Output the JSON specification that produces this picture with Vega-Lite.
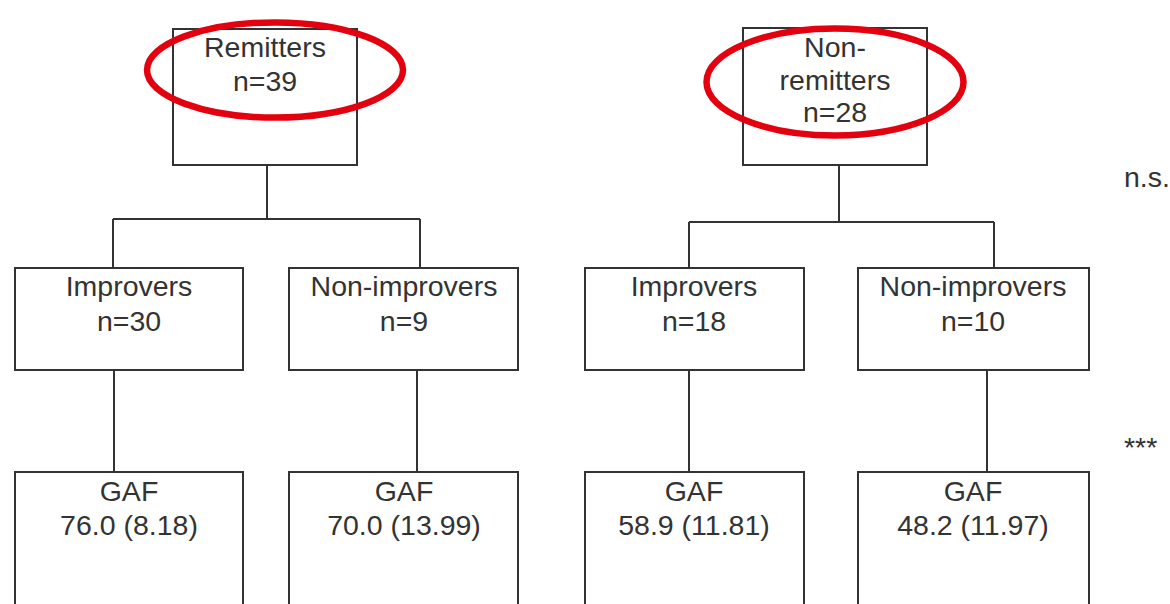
{
  "$schema": "https://vega.github.io/schema/vega-lite/v6.json",
  "width": 1170,
  "height": 604,
  "padding": 0,
  "autosize": {"type": "none"},
  "background": "white",
  "config": {"view": {"stroke": null}},
  "datasets": {
    "boxes": [
      {"id": "Remitters", "x1": 173, "x2": 357, "y1": 29, "y2": 165},
      {"id": "Non-remitters", "x1": 743, "x2": 927, "y1": 28, "y2": 165},
      {"id": "R Improvers", "x1": 15, "x2": 243, "y1": 268, "y2": 370},
      {"id": "R Non-improvers", "x1": 289, "x2": 518, "y1": 268, "y2": 370},
      {"id": "NR Improvers", "x1": 585, "x2": 804, "y1": 268, "y2": 370},
      {"id": "NR Non-improvers", "x1": 858, "x2": 1089, "y1": 268, "y2": 370},
      {"id": "R Improvers GAF", "x1": 15, "x2": 243, "y1": 472, "y2": 640},
      {"id": "R Non-improvers GAF", "x1": 289, "x2": 518, "y1": 472, "y2": 640},
      {"id": "NR Improvers GAF", "x1": 585, "x2": 804, "y1": 472, "y2": 640},
      {"id": "NR Non-improvers GAF", "x1": 858, "x2": 1089, "y1": 472, "y2": 640}
    ],
    "links": [
      {"x": 267, "x2": 267, "y": 165, "y2": 219},
      {"x": 113, "x2": 420, "y": 219, "y2": 219},
      {"x": 113, "x2": 113, "y": 219, "y2": 268},
      {"x": 420, "x2": 420, "y": 219, "y2": 268},
      {"x": 839, "x2": 839, "y": 165, "y2": 222},
      {"x": 689, "x2": 994, "y": 222, "y2": 222},
      {"x": 689, "x2": 689, "y": 222, "y2": 268},
      {"x": 994, "x2": 994, "y": 222, "y2": 268},
      {"x": 114, "x2": 114, "y": 370, "y2": 472},
      {"x": 417, "x2": 417, "y": 370, "y2": 472},
      {"x": 689, "x2": 689, "y": 370, "y2": 472},
      {"x": 987, "x2": 987, "y": 370, "y2": 472}
    ],
    "labels": [
      {"x": 265, "y": 57, "text": "Remitters"},
      {"x": 265, "y": 91, "text": "n=39"},
      {"x": 835, "y": 57, "text": "Non-"},
      {"x": 835, "y": 90, "text": "remitters"},
      {"x": 835, "y": 122, "text": "n=28"},
      {"x": 129, "y": 296, "text": "Improvers"},
      {"x": 129, "y": 331, "text": "n=30"},
      {"x": 404, "y": 296, "text": "Non-improvers"},
      {"x": 404, "y": 331, "text": "n=9"},
      {"x": 694, "y": 296, "text": "Improvers"},
      {"x": 694, "y": 331, "text": "n=18"},
      {"x": 973, "y": 296, "text": "Non-improvers"},
      {"x": 973, "y": 331, "text": "n=10"},
      {"x": 129, "y": 501, "text": "GAF"},
      {"x": 129, "y": 535, "text": "76.0 (8.18)"},
      {"x": 404, "y": 501, "text": "GAF"},
      {"x": 404, "y": 535, "text": "70.0 (13.99)"},
      {"x": 694, "y": 501, "text": "GAF"},
      {"x": 694, "y": 535, "text": "58.9 (11.81)"},
      {"x": 973, "y": 501, "text": "GAF"},
      {"x": 973, "y": 535, "text": "48.2 (11.97)"}
    ],
    "sig": [
      {"x": 1124, "y": 187, "text": "n.s."},
      {"x": 1124, "y": 457, "text": "***"}
    ],
    "circled": [
      {"group": "Remitters", "x": 275, "y": 70},
      {"group": "Non-remitters", "x": 835, "y": 82}
    ]
  },
  "layer": [
    {
      "data": {"name": "boxes"},
      "mark": {"type": "rect", "fill": "white", "stroke": "#333333", "strokeWidth": 2},
      "encoding": {
        "x": {"field": "x1", "type": "quantitative", "scale": {"domain": [0, 1170], "nice": false, "zero": false}, "axis": null},
        "x2": {"field": "x2"},
        "y": {"field": "y1", "type": "quantitative", "scale": {"domain": [604, 0], "nice": false, "zero": false}, "axis": null},
        "y2": {"field": "y2"}
      }
    },
    {
      "data": {"name": "links"},
      "mark": {"type": "rule", "stroke": "#333333", "strokeWidth": 2},
      "encoding": {
        "x": {"field": "x", "type": "quantitative", "scale": {"domain": [0, 1170], "nice": false, "zero": false}, "axis": null},
        "x2": {"field": "x2"},
        "y": {"field": "y", "type": "quantitative", "scale": {"domain": [604, 0], "nice": false, "zero": false}, "axis": null},
        "y2": {"field": "y2"}
      }
    },
    {
      "data": {"name": "labels"},
      "mark": {"type": "text", "font": "Liberation Sans", "fontSize": 28.5, "color": "#333333", "align": "center", "baseline": "alphabetic"},
      "encoding": {
        "x": {"field": "x", "type": "quantitative", "scale": {"domain": [0, 1170], "nice": false, "zero": false}, "axis": null},
        "y": {"field": "y", "type": "quantitative", "scale": {"domain": [604, 0], "nice": false, "zero": false}, "axis": null},
        "text": {"field": "text"}
      }
    },
    {
      "data": {"name": "sig"},
      "mark": {"type": "text", "font": "Liberation Sans", "fontSize": 28.5, "color": "#333333", "align": "left", "baseline": "alphabetic"},
      "encoding": {
        "x": {"field": "x", "type": "quantitative", "scale": {"domain": [0, 1170], "nice": false, "zero": false}, "axis": null},
        "y": {"field": "y", "type": "quantitative", "scale": {"domain": [604, 0], "nice": false, "zero": false}, "axis": null},
        "text": {"field": "text"}
      }
    },
    {
      "data": {"name": "circled"},
      "transform": [{"filter": "datum.group === 'Remitters'"}],
      "mark": {"type": "point", "filled": false, "stroke": "#e3000f", "strokeWidth": 6.5, "opacity": 1, "size": 65536, "shape": "M -1 0 A 1 0.372 0 1 1 1 0 A 1 0.372 0 1 1 -1 0 Z"},
      "encoding": {
        "x": {"field": "x", "type": "quantitative", "scale": {"domain": [0, 1170], "nice": false, "zero": false}, "axis": null},
        "y": {"field": "y", "type": "quantitative", "scale": {"domain": [604, 0], "nice": false, "zero": false}, "axis": null}
      }
    },
    {
      "data": {"name": "circled"},
      "transform": [{"filter": "datum.group === 'Non-remitters'"}],
      "mark": {"type": "point", "filled": false, "stroke": "#e3000f", "strokeWidth": 6.5, "opacity": 1, "size": 66049, "shape": "M -1 0 A 1 0.416 0 1 1 1 0 A 1 0.416 0 1 1 -1 0 Z"},
      "encoding": {
        "x": {"field": "x", "type": "quantitative", "scale": {"domain": [0, 1170], "nice": false, "zero": false}, "axis": null},
        "y": {"field": "y", "type": "quantitative", "scale": {"domain": [604, 0], "nice": false, "zero": false}, "axis": null}
      }
    }
  ]
}
